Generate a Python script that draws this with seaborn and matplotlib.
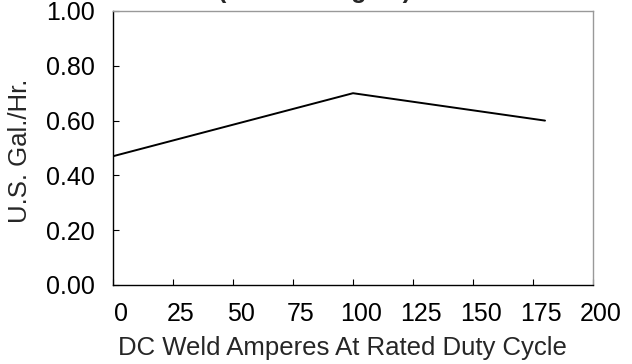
import matplotlib
matplotlib.use("Agg")
import matplotlib.pyplot as plt
import matplotlib.transforms as mtransforms
import pandas as pd
import seaborn as sns

# fuel use vs weld current
amperes = [0, 100, 180]
gal_per_hr = [0.47, 0.70, 0.60]

x_ticks = [0, 25, 50, 75, 100, 125, 150, 175, 200]
y_ticks = [0.0, 0.2, 0.4, 0.6, 0.8, 1.0]

df = pd.DataFrame({"Amperes": amperes, "Gal": gal_per_hr})

sns.set_theme(style="white")
plt.rcParams["font.family"] = ["Liberation Sans", "DejaVu Sans"]

fig = plt.figure(figsize=(6.32, 3.64), dpi=100)
ax = fig.add_axes([113 / 632, 79 / 364, 480 / 632, 274 / 364])

sns.lineplot(data=df, x="Amperes", y="Gal", ax=ax, color="black", linewidth=1.4)

ax.set_xlim(0, 200)
ax.set_ylim(0, 1.0)
ax.set_xticks(x_ticks)
ax.set_yticks(y_ticks)
ax.set_yticklabels([f"{v:.2f}" for v in y_ticks])

ax.tick_params(axis="both", direction="in", length=4, width=0.8, colors="black",
               labelsize=18, bottom=True, left=True, top=False, right=False)
ax.tick_params(axis="x", pad=12)
ax.tick_params(axis="y", pad=13)

# x tick labels sit a little to the right of their ticks
offset = mtransforms.ScaledTranslation(8 / 100, 0, fig.dpi_scale_trans)
for lbl in ax.get_xticklabels():
    lbl.set_transform(lbl.get_transform() + offset)

for side in ["left", "bottom"]:
    ax.spines[side].set_color("black")
    ax.spines[side].set_linewidth(1.0)
for side in ["top", "right"]:
    ax.spines[side].set_color("#999999")
    ax.spines[side].set_linewidth(1.0)

ax.set_xlabel("DC Weld Amperes At Rated Duty Cycle", fontsize=18.5)
ax.set_ylabel("U.S. Gal./Hr.", fontsize=18.5)
ax.xaxis.set_label_coords(0.479, -0.185)
ax.yaxis.set_label_coords(-0.168, 0.49)

# title sits mostly above the top edge, only the descenders show
fig.text(315 / 632, 1 + 2 / 364, "(Kubota Engine)", ha="center", va="baseline",
         fontsize=18, fontweight="bold")

fig.savefig("out.png", dpi=100)
